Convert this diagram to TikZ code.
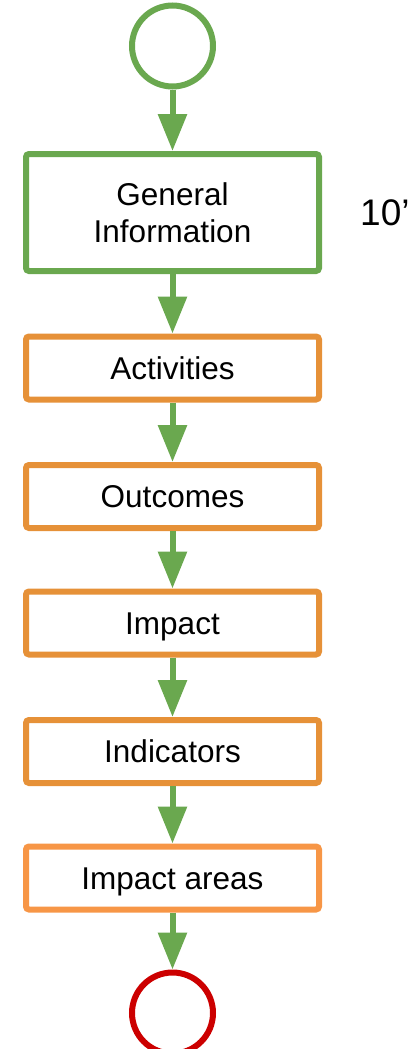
\documentclass[tikz,border=0pt]{standalone}
\usepackage{fontspec}
\setmainfont{Liberation Sans}
\usetikzlibrary{arrows.meta}
\definecolor{flowgreen}{HTML}{6AA84F}
\definecolor{boxorange}{HTML}{E69138}
\definecolor{lightorange}{HTML}{F79646}
\definecolor{endred}{HTML}{CC0000}
\tikzset{
  stepbox/.style={draw=boxorange, line width=6pt, rounded corners=3pt, fill=white,
    minimum width=293pt, minimum height=63pt, inner sep=0pt,
    font=\fontsize{31.5}{37}\selectfont, text height=22.5pt, text depth=0pt, align=center},
  startnode/.style={circle, draw=flowgreen, line width=6pt, minimum size=81pt, inner sep=0pt},
  endnode/.style={circle, draw=endred, line width=6pt, minimum size=81pt, inner sep=0pt},
  flow/.style={draw=flowgreen, line width=6pt, -{Triangle[length=37pt,width=28pt]}},
}
\begin{document}
\begin{tikzpicture}[x=1pt,y=-1pt]
\useasboundingbox (0,0) rectangle (417,1049);
\clip (0,0) rectangle (417,1049);
\node[startnode] (start) at (172.5,46) {};
\node[stepbox, draw=flowgreen, minimum height=117pt, text height=, text depth=] (gi) at (172.5,212.5) {General\\Information};
\node[stepbox] (act) at (172.5,368) {Activities};
\node[stepbox] (out) at (172.5,496.5) {Outcomes};
\node[stepbox] (imp) at (172.5,623) {Impact};
\node[stepbox] (ind) at (172.5,751.5) {Indicators};
\node[stepbox, draw=lightorange] (area) at (172.5,878) {Impact areas};
\node[endnode] (end) at (172.5,1013) {};
\node[anchor=base west, inner sep=0pt, font=\fontsize{37}{44}\selectfont] (time) at (360,225) {10’};
\draw[flow] (start.south) -- (gi.north);
\draw[flow] (gi.south) -- (act.north);
\draw[flow] (act.south) -- (out.north);
\draw[flow] (out.south) -- (imp.north);
\draw[flow] (imp.south) -- (ind.north);
\draw[flow] (ind.south) -- (area.north);
\draw[flow] (area.south) -- (end.north);
\end{tikzpicture}
\end{document}
